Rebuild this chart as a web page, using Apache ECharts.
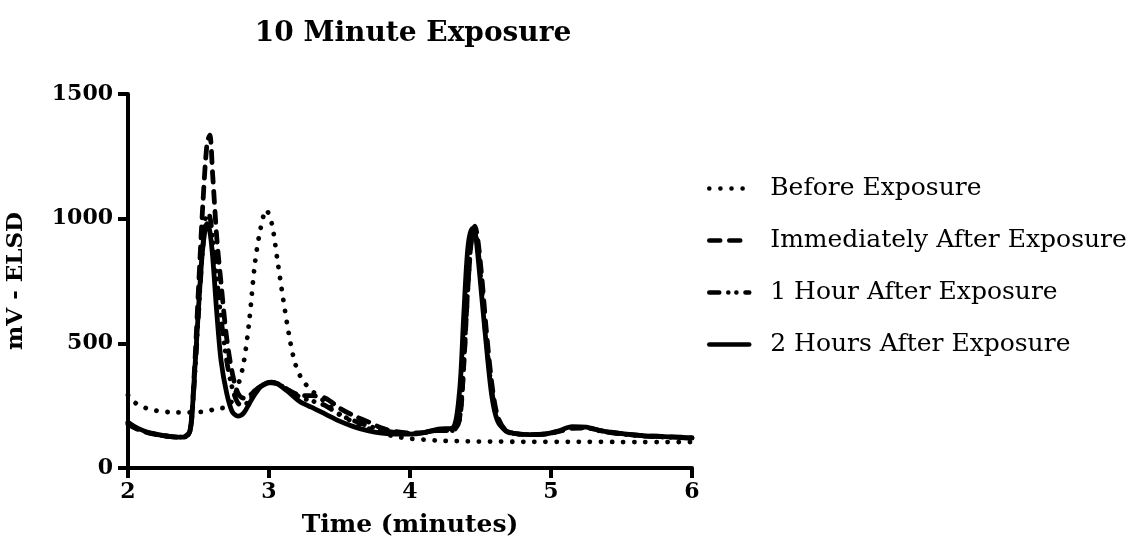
<!DOCTYPE html>
<html>
<head>
<meta charset="utf-8">
<script src="https://cdn.jsdelivr.net/npm/echarts@6/dist/echarts.min.js"></script>
<style>
  html, body { margin: 0; padding: 0; background: #fff; }
  #chart { width: 1131px; height: 558px; }
</style>
</head>
<body>
<div id="chart"></div>
<script>
// retention time (minutes)
const times = [
  2.00, 2.05, 2.10, 2.15, 2.20, 2.25, 2.30, 2.35, 2.40, 2.44, 2.47, 2.50, 2.53, 2.56, 2.58, 2.60,
  2.63, 2.66, 2.70, 2.74, 2.78, 2.82, 2.86, 2.90, 2.94, 2.98, 3.02, 3.06, 3.10, 3.14, 3.18, 3.22,
  3.26, 3.30, 3.40, 3.50, 3.60, 3.70, 3.80, 3.90, 4.00, 4.10, 4.20, 4.30, 4.35, 4.38, 4.41, 4.44,
  4.46, 4.48, 4.51, 4.54, 4.58, 4.62, 4.68, 4.75, 4.85, 4.95, 5.05, 5.15, 5.25, 5.35, 5.50, 5.65,
  5.80, 6.00
];

// mV - ELSD
const beforeExposure = [
  292, 262, 246, 236, 230, 226, 224, 223, 222, 223, 224, 225, 226, 228, 230, 234,
  237, 240, 244, 272, 330, 420, 590, 820, 960, 1035, 980, 832, 680, 540, 430, 370,
  336, 312, 264, 216, 184, 160, 140, 126, 118, 114, 110, 108, 108, 107, 107, 107,
  106, 106, 106, 106, 106, 106, 106, 105, 105, 105, 105, 105, 105, 105, 104, 104,
  104, 104
];
const immediatelyAfter = [
  175, 160, 148, 140, 134, 130, 126, 124, 126, 150, 380, 720, 1050, 1300, 1335, 1180,
  920, 740, 520, 380, 300, 280, 290, 310, 328, 340, 342, 338, 326, 312, 300, 292,
  290, 290, 280, 240, 210, 186, 160, 146, 140, 142, 150, 150, 190, 400, 720, 940,
  970, 920, 760, 560, 340, 210, 150, 138, 134, 136, 146, 160, 162, 150, 138, 130,
  126, 122
];
const oneHourAfter = [
  180, 162, 150, 141, 135, 130, 126, 124, 125, 145, 340, 620, 880, 1020, 1010, 920,
  760, 600, 430, 320, 260, 250, 272, 302, 326, 338, 342, 338, 326, 312, 298, 284,
  276, 270, 250, 214, 190, 170, 152, 142, 138, 142, 152, 150, 195, 410, 720, 945,
  960, 890, 710, 520, 310, 200, 148, 137, 134, 136, 146, 160, 160, 148, 136, 128,
  124, 120
];
const twoHoursAfter = [
  184, 165, 152, 142, 136, 130, 126, 124, 124, 150, 360, 640, 880, 980, 950, 850,
  620, 430, 300, 225, 208, 220, 258, 296, 326, 340, 344, 338, 322, 304, 284, 266,
  254, 244, 216, 188, 166, 150, 140, 136, 136, 142, 156, 160, 300, 600, 880, 960,
  950, 860, 680, 500, 290, 190, 150, 138, 134, 136, 148, 166, 164, 150, 138, 130,
  126, 120
];

const xTicks = [2, 3, 4, 5, 6];
const yTicks = [0, 500, 1000, 1500];

const font = "DejaVu Serif";
const pair = (vals) => times.map((t, i) => [t, vals[i]]);

const chart = echarts.init(document.getElementById("chart"), null, { renderer: "canvas" });

function line(name, vals, type) {
  return {
    name,
    type: "line",
    data: pair(vals),
    symbol: "none",
    smooth: 0.3,
    lineStyle: { color: "#000", width: 4.8, type, cap: "round", join: "round" },
    itemStyle: { color: "#000" },
  };
}

chart.setOption({
  animation: false,
  backgroundColor: "#fff",
  title: {
    text: "10 Minute Exposure",
    left: 408,
    top: 15,
    textAlign: "center",
    textStyle: { fontFamily: font, fontWeight: "bold", fontSize: 28, color: "#000" },
  },
  legend: {
    orient: "vertical",
    left: 702,
    top: 171,
    itemWidth: 40,
    itemHeight: 20,
    itemGap: 27,
    lineStyle: { width: 4.5 },
    itemStyle: { color: "rgba(0,0,0,0)", borderWidth: 0, opacity: 0 },
    textStyle: {
      fontFamily: font,
      fontSize: 25,
      color: "#000",
      lineHeight: 20,
      padding: [0, 0, 0, 16],
    },
    data: ["Before Exposure", "Immediately After Exposure", "1 Hour After Exposure", "2 Hours After Exposure"],
  },
  grid: { left: 128, right: 439, top: 94, bottom: 90, containLabel: false },
  xAxis: {
    type: "value",
    min: xTicks[0],
    max: xTicks[xTicks.length - 1],
    interval: 1,
    name: "Time (minutes)",
    nameLocation: "middle",
    nameGap: 45,
    nameTextStyle: { fontFamily: font, fontWeight: "bold", fontSize: 25, color: "#000" },
    axisLine: { lineStyle: { color: "#000", width: 4 } },
    axisTick: { length: 10, lineStyle: { color: "#000", width: 4 } },
    axisLabel: { margin: 13, fontFamily: font, fontWeight: "bold", fontSize: 22, color: "#000" },
    splitLine: { show: false },
  },
  yAxis: {
    type: "value",
    min: yTicks[0],
    max: yTicks[yTicks.length - 1],
    interval: 500,
    name: "mV - ELSD",
    nameLocation: "middle",
    nameGap: 100,
    nameTextStyle: { fontFamily: font, fontWeight: "bold", fontSize: 23, color: "#000" },
    axisLine: { show: true, lineStyle: { color: "#000", width: 4 } },
    axisTick: { show: true, length: 10, lineStyle: { color: "#000", width: 4 } },
    axisLabel: {
      margin: 15,
      fontFamily: font,
      fontWeight: "bold",
      fontSize: 22,
      color: "#000",
      formatter: (v) => String(v),
    },
    splitLine: { show: false },
  },
  series: [
    line("Before Exposure", beforeExposure, [0.1, 11]),
    line("Immediately After Exposure", immediatelyAfter, [11, 9]),
    line("1 Hour After Exposure", oneHourAfter, [10, 9, 0.1, 8, 0.1, 9]),
    line("2 Hours After Exposure", twoHoursAfter, "solid"),
  ],
});
</script>
</body>
</html>
